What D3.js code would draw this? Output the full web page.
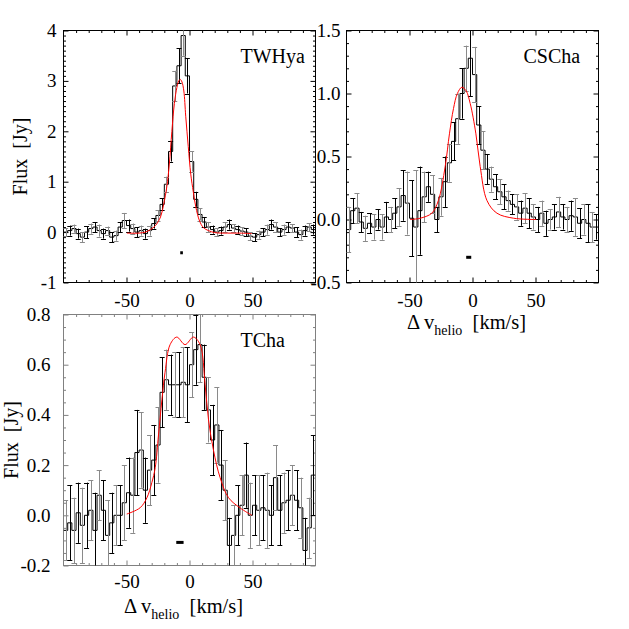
<!DOCTYPE html>
<meta charset="utf-8">
<style>
  body { margin: 0; background: #fff; }
  svg text { font-family: "Liberation Serif", "Times New Roman", serif; fill: #000; }
</style>
<div id="chart"></div>
<script src="https://cdn.jsdelivr.net/npm/d3@7/dist/d3.min.js"></script>
<script>
  // velocity bin centres (km/s), bins are 3.33 km/s wide
  var velocity = [-98.3,-95.0,-91.7,-88.3,-85.0,-81.7,-78.3,-75.0,-71.7,-68.3,
                  -65.0,-61.7,-58.3,-55.0,-51.7,-48.3,-45.0,-41.7,-38.3,-35.0,
                  -31.7,-28.3,-25.0,-21.7,-18.3,-15.0,-11.7,-8.3,-5.0,-1.7,
                  1.7,5.0,8.3,11.7,15.0,18.3,21.7,25.0,28.3,31.7,
                  35.0,38.3,41.7,45.0,48.3,51.7,55.0,58.3,61.7,65.0,
                  68.3,71.7,75.0,78.3,81.7,85.0,88.3,91.7,95.0,98.3];
  var binWidth = 3.33;

  var sourceNames = ["TWHya", "CSCha", "TCha"];

  // TW Hya
  var twhyaFlux = [0.0,0.03,0.07,-0.03,-0.1,0.0,0.07,0.1,0.03,-0.03,
                   0.03,-0.1,-0.07,0.1,0.23,0.13,0.07,0.0,0.03,-0.03,
                   0.03,0.17,0.33,0.55,0.95,1.6,2.9,3.3,3.9,3.1,
                   1.4,0.65,0.35,0.2,0.1,0.05,0.0,0.03,0.1,0.15,
                   0.08,0.05,0.02,0.0,-0.08,-0.1,-0.05,0.0,0.05,0.15,
                   0.1,0.0,0.05,0.1,0.08,0.0,-0.05,0.03,0.1,0.05];
  var twhyaErr = [0.08,0.1,0.08,0.1,0.1,0.12,0.1,0.1,0.12,0.1,
                  0.08,0.1,0.1,0.1,0.15,0.12,0.1,0.1,0.1,0.1,
                  0.1,0.1,0.1,0.12,0.15,0.2,0.3,0.35,0.4,0.35,
                  0.2,0.15,0.12,0.1,0.1,0.08,0.08,0.08,0.1,0.1,
                  0.08,0.08,0.08,0.08,0.08,0.08,0.08,0.08,0.1,0.1,
                  0.1,0.08,0.1,0.1,0.08,0.1,0.1,0.1,0.08,0.1];
  var twhyaFitV = [-49.7,-40,-35,-31,-27,-23,-20.5,-18,-16,-14,-12,-10,-8.5,-7.4,
                   -6,-4.5,-3,-1,1,3,5,8,11,15,20,30,40,49.5];
  var twhyaFitF = [-0.02,-0.02,0.0,0.05,0.13,0.3,0.55,0.9,1.35,2.0,2.55,2.87,3.0,3.03,
                   2.98,2.8,2.3,1.7,1.15,0.8,0.5,0.22,0.09,0.03,-0.01,-0.02,-0.02,-0.03];

  // CS Cha
  var cschaFlux = [-0.08,0.07,0.09,-0.02,-0.07,-0.03,-0.06,0.0,-0.06,0.02,
                   0.0,0.05,0.1,0.19,0.13,0.01,-0.06,0.07,0.18,0.26,
                   0.2,0.0,0.18,0.3,0.45,0.62,0.8,1.0,1.2,1.28,
                   1.15,0.75,0.55,0.4,0.32,0.26,0.22,0.18,0.15,0.12,
                   0.1,0.05,0.09,0.05,0.02,0.0,0.05,-0.03,0.0,0.02,
                   0.06,0.02,0.0,0.03,0.02,-0.03,0.0,-0.03,-0.06,-0.06];
  var cschaErr = [0.18,0.1,0.12,0.08,0.1,0.08,0.1,0.08,0.1,0.12,
                  0.1,0.12,0.15,0.2,0.25,0.3,0.45,0.35,0.2,0.12,
                  0.15,0.1,0.15,0.2,0.15,0.15,0.2,0.2,0.18,0.3,
                  0.22,0.15,0.15,0.12,0.1,0.1,0.1,0.1,0.08,0.08,
                  0.1,0.1,0.12,0.12,0.1,0.1,0.1,0.1,0.08,0.1,
                  0.12,0.1,0.1,0.12,0.15,0.12,0.12,0.15,0.12,0.1];
  var cschaFitV = [-49.6,-41.6,-32.3,-27.1,-21.7,-18.3,-15.1,-12,-8.4,-5,-1.8,2.7,6.1,11.5,19.4,32.7,50.7];
  var cschaFitF = [0.0,0.01,0.05,0.15,0.42,0.68,0.88,1.0,1.05,1.02,0.92,0.68,0.42,0.15,0.05,0.01,0.0];

  // T Cha
  var tchaFlux = [-0.06,-0.03,-0.06,0.01,-0.04,0.0,0.02,-0.06,0.08,0.02,
                  -0.08,-0.03,0.0,0.0,0.05,0.09,0.08,0.25,0.26,0.1,
                  0.18,0.22,0.28,0.49,0.54,0.52,0.52,0.52,0.53,0.52,
                  0.6,0.66,0.68,0.55,0.42,0.3,0.36,0.2,0.1,-0.12,
                  -0.08,0.0,0.04,0.16,0.0,0.04,0.02,0.03,0.02,0.0,
                  0.15,0.02,0.05,0.06,0.08,0.06,0.03,-0.14,-0.05,0.16];
  var tchaErr = [0.12,0.15,0.13,0.12,0.15,0.13,0.12,0.15,0.1,0.12,
                 0.14,0.12,0.12,0.12,0.15,0.14,0.15,0.17,0.15,0.13,
                 0.14,0.14,0.15,0.14,0.12,0.12,0.13,0.13,0.14,0.15,
                 0.13,0.14,0.15,0.13,0.13,0.14,0.15,0.14,0.12,0.11,
                 0.12,0.12,0.12,0.13,0.13,0.12,0.14,0.13,0.15,0.12,
                 0.13,0.14,0.12,0.12,0.12,0.12,0.12,0.13,0.12,0.16];
  var tchaFitV = [-49.8,-39.2,-33.8,-29.9,-27.2,-24.6,-21.9,-19.4,-15.4,-10.1,-3.5,3.1,8.4,12.4,15.1,19.0,24.3,31,40,49.5];
  var tchaFitF = [0.005,0.03,0.07,0.13,0.19,0.32,0.46,0.57,0.68,0.71,0.68,0.71,0.68,0.52,0.38,0.26,0.15,0.07,0.03,0.0];

  // star velocity markers
  var markerV = [-6.3, -3.0, -7.6];
  var markerF = [-0.41, -0.30, -0.108];
  var markerW = [2.1, 4.0, 5.8];

  // axis ticks
  var xTicks = [-50, 0, 50];
  var twhyaYTicks = [-1, 0, 1, 2, 3, 4];
  var cschaYTicks = [-0.5, 0, 0.5, 1.0, 1.5];
  var tchaYTicks = [-0.2, 0, 0.2, 0.4, 0.6, 0.8];

  var serif = '"Liberation Serif", "Times New Roman", serif';

  // plain hyphen instead of unicode minus, like the original
  function fmt(spec) {
    var f = d3.format(spec);
    return function(d) { return f(d).replace("\u2212", "-"); };
  }

  var panels = [
    {name: sourceNames[0], flux: twhyaFlux, err: twhyaErr, fitV: twhyaFitV, fitF: twhyaFitF,
     yDomain: [-1, 4], yTicks: twhyaYTicks, yFmt: fmt("d"), yMinor: 0.1,
     left: 63.5, right: 315.5, top: 30.5, bottom: 282.5, frame: "#000",
     yPad: 7, xPad: 11, yTitleX: 27, xTitleY: null},
    {name: sourceNames[1], flux: cschaFlux, err: cschaErr, fitV: cschaFitV, fitF: cschaFitF,
     yDomain: [-0.5, 1.5], yTicks: cschaYTicks, yFmt: fmt(".1f"), yMinor: 0.1,
     left: 346.5, right: 598.5, top: 30.5, bottom: 282.5, frame: "#000",
     yPad: 6, xPad: 11, yTitleX: null, xTitleY: 329},
    {name: sourceNames[2], flux: tchaFlux, err: tchaErr, fitV: tchaFitV, fitF: tchaFitF,
     yDomain: [-0.2, 0.8], yTicks: tchaYTicks, yFmt: fmt(".1f"), yMinor: 0.05,
     left: 63.5, right: 315.5, top: 314.5, bottom: 565.5, frame: "#808080",
     yPad: 13, xPad: 9, yTitleX: 18, xTitleY: 613}
  ];

  var svg = d3.select("#chart").append("svg")
      .attr("width", 629).attr("height", 629);

  function ticksAround(g, axis) {
    g.call(axis);
    g.select(".domain").remove();
    g.attr("font-family", null).attr("font-size", null);
    g.selectAll("text")
      .style("font-family", serif)
      .style("font-size", "19px")
      .attr("fill", "#000");
  }

  panels.forEach(function(p, k) {
    var x = d3.scaleLinear().domain([-100, 100]).range([p.left, p.right]);
    var y = d3.scaleLinear().domain(p.yDomain).range([p.bottom, p.top]);
    var g = svg.append("g");

    var clipId = "clip" + k;
    svg.append("clipPath").attr("id", clipId).append("rect")
      .attr("x", p.left).attr("y", p.top)
      .attr("width", p.right - p.left).attr("height", p.bottom - p.top);

    var minorX = d3.range(-90, 100, 10).filter(function(d) { return xTicks.indexOf(d) < 0; });
    var minorY = d3.range(p.yDomain[0], p.yDomain[1] + 1e-6, p.yMinor)
      .map(function(d) { return Math.round(d * 100) / 100; })
      .filter(function(d) { return p.yTicks.indexOf(d) < 0 && d > p.yDomain[0] && d < p.yDomain[1]; });

    var ax = g.append("g").attr("color", p.frame).attr("stroke-width", 1);
    // bottom axis with labels
    ticksAround(ax.append("g").attr("transform", "translate(0," + p.bottom + ")"),
      d3.axisBottom(x).tickValues(xTicks).tickSize(-5).tickPadding(p.xPad).tickFormat(fmt("d")));
    ticksAround(ax.append("g").attr("transform", "translate(0," + p.bottom + ")"),
      d3.axisBottom(x).tickValues(minorX).tickSize(-2.5).tickFormat(""));
    ticksAround(ax.append("g").attr("transform", "translate(0," + p.top + ")"),
      d3.axisTop(x).tickValues(xTicks).tickSize(-5).tickFormat(""));
    ticksAround(ax.append("g").attr("transform", "translate(0," + p.top + ")"),
      d3.axisTop(x).tickValues(minorX).tickSize(-2.5).tickFormat(""));
    // left axis with labels
    ticksAround(ax.append("g").attr("transform", "translate(" + p.left + ",0)"),
      d3.axisLeft(y).tickValues(p.yTicks).tickSize(-5).tickPadding(p.yPad).tickFormat(p.yFmt));
    ticksAround(ax.append("g").attr("transform", "translate(" + p.left + ",0)"),
      d3.axisLeft(y).tickValues(minorY).tickSize(-2.5).tickFormat(""));
    ticksAround(ax.append("g").attr("transform", "translate(" + p.right + ",0)"),
      d3.axisRight(y).tickValues(p.yTicks).tickSize(-5).tickFormat(""));
    ticksAround(ax.append("g").attr("transform", "translate(" + p.right + ",0)"),
      d3.axisRight(y).tickValues(minorY).tickSize(-2.5).tickFormat(""));

    g.append("rect")
      .attr("x", p.left).attr("y", p.top)
      .attr("width", p.right - p.left).attr("height", p.bottom - p.top)
      .attr("fill", "none").attr("stroke", p.frame);

    var data = velocity.map(function(v, i) { return {v: v, f: p.flux[i], e: p.err[i]}; });
    var plot = g.append("g").attr("clip-path", "url(#" + clipId + ")");

    // histogram
    var steps = [];
    data.forEach(function(d) {
      steps.push([d.v - binWidth / 2, d.f]);
      steps.push([d.v + binWidth / 2, d.f]);
    });
    plot.append("path")
      .attr("d", d3.line().x(function(d) { return x(d[0]); }).y(function(d) { return y(d[1]); })(steps))
      .attr("fill", "none").attr("stroke", "#000").attr("stroke-width", 1);

    // error bars
    var eb = plot.selectAll("g.err").data(data).enter().append("g")
      .attr("class", "err")
      .attr("stroke", function(d, i) { return i % 2 ? "#000" : "#8a8a8a"; })
      .attr("stroke-width", 1);
    eb.append("line")
      .attr("x1", function(d) { return Math.round(x(d.v)) + 0.5; })
      .attr("x2", function(d) { return Math.round(x(d.v)) + 0.5; })
      .attr("y1", function(d) { return y(d.f - d.e); })
      .attr("y2", function(d) { return y(d.f + d.e); });
    [-1, 1].forEach(function(s) {
      eb.append("line")
        .attr("x1", function(d) { return x(d.v) - 2.5; })
        .attr("x2", function(d) { return x(d.v) + 2.5; })
        .attr("y1", function(d) { return Math.round(y(d.f + s * d.e)) + 0.5; })
        .attr("y2", function(d) { return Math.round(y(d.f + s * d.e)) + 0.5; });
    });

    // fit
    var fit = p.fitV.map(function(v, i) { return [v, p.fitF[i]]; });
    plot.append("path")
      .attr("d", d3.line().curve(d3.curveCatmullRom.alpha(0.5))
        .x(function(d) { return x(d[0]); }).y(function(d) { return y(d[1]); })(fit))
      .attr("fill", "none").attr("stroke", "#ff0000").attr("stroke-width", 1);

    // stellar velocity marker
    g.append("rect")
      .attr("x", x(markerV[k] - markerW[k] / 2))
      .attr("width", x(markerV[k] + markerW[k] / 2) - x(markerV[k] - markerW[k] / 2))
      .attr("y", y(markerF[k]) - 1.5).attr("height", 3)
      .attr("fill", "#000");

    // source name
    g.append("text")
      .attr("x", p.left + 177).attr("y", p.top + 32.5)
      .style("font-size", "20px")
      .text(p.name);

    if (p.yTitleX !== null) {
      g.append("text")
        .attr("transform", "translate(" + p.yTitleX + "," + ((p.top + p.bottom) / 2) + ") rotate(-90)")
        .attr("text-anchor", "middle")
        .style("font-size", "20px")
        .style("white-space", "pre")
        .text("Flux  [Jy]");
    }
    if (p.xTitleY !== null) {
      var t = g.append("text")
        .attr("x", (p.left + p.right) / 2 - 6).attr("y", p.xTitleY)
        .attr("text-anchor", "middle")
        .style("font-size", "20.5px")
        .style("white-space", "pre");
      t.append("tspan").text("\u0394 v");
      t.append("tspan").style("font-size", "14px").attr("dy", 5.5).text("helio");
      t.append("tspan").attr("dy", -5.5).text("  [km/s]");
    }
  });
</script>
